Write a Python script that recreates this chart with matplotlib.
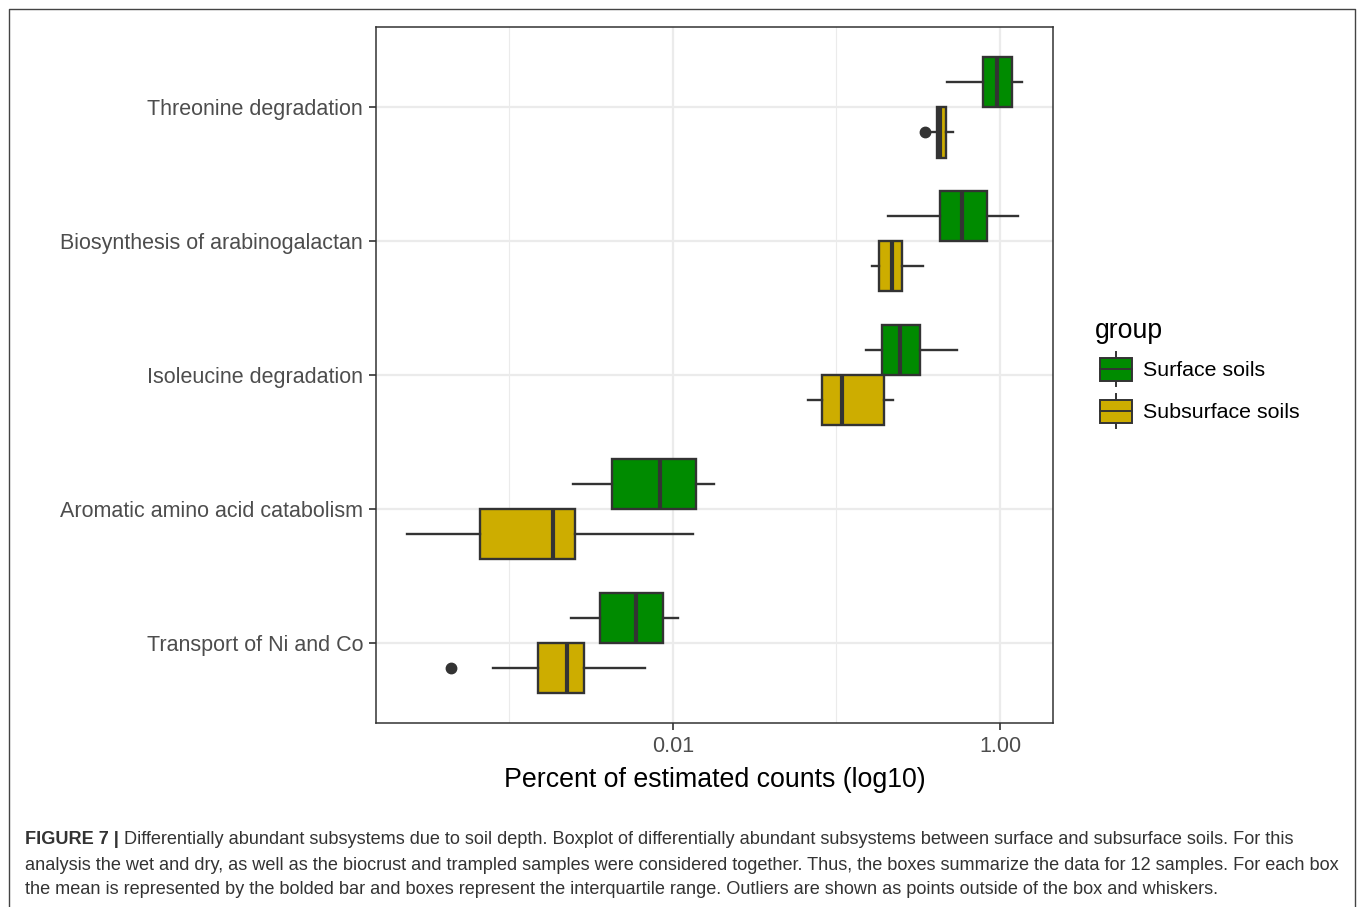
import matplotlib
matplotlib.use("Agg")
import matplotlib.pyplot as plt
from matplotlib.patches import Rectangle
from matplotlib.lines import Line2D
import matplotlib.ticker as mticker

plt.rcParams['font.family'] = ['Liberation Sans', 'DejaVu Sans']

# ---------------- data (percent of estimated counts) ----------------
categories = ["Transport of Ni and Co", "Aromatic amino acid catabolism",
              "Isoleucine degradation", "Biosynthesis of arabinogalactan",
              "Threonine degradation"]
groups = ["Surface soils", "Subsurface soils"]
group_colors = ["#008B00", "#CDAD00"]

# per category: whislo, q1, median, q3, whishi
surface_whislo = [0.00237, 0.00245, 0.152, 0.207, 0.475]
surface_q1     = [0.00356, 0.00426, 0.189, 0.431, 0.785]
surface_med    = [0.00592, 0.00836, 0.245, 0.583, 0.957]
surface_q3     = [0.00873, 0.0138, 0.324, 0.836, 1.189]
surface_whishi = [0.01076, 0.0179, 0.542, 1.297, 1.371]
surface_fliers = [[], [], [], [], []]

subsurface_whislo = [0.000791, 0.000237, 0.0668, 0.166, 0.378]
subsurface_q1     = [0.00150, 0.000665, 0.0820, 0.183, 0.410]
subsurface_med    = [0.00225, 0.00185, 0.108, 0.218, 0.429]
subsurface_q3     = [0.00286, 0.00250, 0.196, 0.253, 0.465]
subsurface_whishi = [0.00678, 0.0132, 0.222, 0.339, 0.515]
subsurface_fliers = [[0.000437], [], [], [], [0.349]]

x_ticks = [0.01, 1.0]
x_tick_labels = ["0.01", "1.00"]
x_minor = [0.001, 0.1]

caption_bold = "FIGURE 7 |"
caption_lines = [
    " Differentially abundant subsystems due to soil depth. Boxplot of differentially abundant subsystems between surface and subsurface soils. For this",
    "analysis the wet and dry, as well as the biocrust and trampled samples were considered together. Thus, the boxes summarize the data for 12 samples. For each box",
    "the mean is represented by the bolded bar and boxes represent the interquartile range. Outliers are shown as points outside of the box and whiskers.",
]

# ---------------- figure ----------------
W, H = 1357, 907
fig = plt.figure(figsize=(W / 100, H / 100), dpi=100)
fig.patch.set_facecolor("white")

ax = fig.add_axes([376 / W, 1 - 723 / H, (1053 - 376) / W, (723 - 27) / H])
ax.set_xscale("log")
ax.set_xlim(10 ** -3.816, 10 ** 0.324)
ax.set_ylim(0.4, 5.6)

edge = "#333333"
box_lw = 1.7
med_lw = 3.0

def make_stats(wl, q1, md, q3, wh, fl):
    return [dict(whislo=a, q1=b, med=c, q3=d, whishi=e, fliers=f)
            for a, b, c, d, e, f in zip(wl, q1, md, q3, wh, fl)]

surf_stats = make_stats(surface_whislo, surface_q1, surface_med, surface_q3,
                        surface_whishi, surface_fliers)
sub_stats = make_stats(subsurface_whislo, subsurface_q1, subsurface_med,
                       subsurface_q3, subsurface_whishi, subsurface_fliers)

base = list(range(1, len(categories) + 1))
dodge = 0.1875
bw = 0.375
for stats, off, col in [(surf_stats, dodge, group_colors[0]),
                        (sub_stats, -dodge, group_colors[1])]:
    ax.bxp(stats, positions=[p + off for p in base], widths=bw,
           orientation="horizontal", patch_artist=True, showcaps=False,
           boxprops=dict(facecolor=col, edgecolor=edge, linewidth=box_lw),
           medianprops=dict(color=edge, linewidth=med_lw, solid_capstyle="butt"),
           whiskerprops=dict(color=edge, linewidth=box_lw),
           flierprops=dict(marker="o", markerfacecolor=edge, markeredgecolor=edge,
                           markersize=7.5),
           manage_ticks=False, zorder=3)

# grid
ax.set_xticks(x_ticks)
ax.set_xticklabels(x_tick_labels)
ax.xaxis.set_minor_locator(mticker.FixedLocator(x_minor))
ax.xaxis.set_minor_formatter(mticker.NullFormatter())
ax.set_yticks(base)
ax.set_yticklabels(categories)
ax.grid(True, which="major", color="#EBEBEB", linewidth=1.6, zorder=0)
ax.grid(True, which="minor", axis="x", color="#EBEBEB", linewidth=0.8, zorder=0)
ax.set_axisbelow(True)
ax.tick_params(axis="both", which="major", length=5, width=1.2, color=edge,
               labelsize=15.5, labelcolor="#4D4D4D", pad=4.3)
ax.tick_params(axis="x", which="minor", length=0)
for s in ax.spines.values():
    s.set_color(edge)
    s.set_linewidth(1.1)
ax.set_xlabel("Percent of estimated counts (log10)", fontsize=19.3, color="black",
              labelpad=7)

# ---------------- overlay (frame, legend, caption) ----------------
ov = fig.add_axes([0, 0, 1, 1], zorder=5)
ov.set_xlim(0, W)
ov.set_ylim(H, 0)
ov.axis("off")
ov.patch.set_alpha(0)

# outer frame
ov.add_line(Line2D([9, 9, 1355, 1355], [907, 9, 9, 907], color="#444444", lw=1.0))

# legend
ov.text(1095, 331, "group", fontsize=19.2, color="black", va="center", ha="left")
for i, (g, col) in enumerate(zip(groups, group_colors)):
    yc = 369 + i * 42
    ov.add_line(Line2D([1116, 1116], [yc - 17, yc + 17], color=edge, lw=1.4, zorder=1))
    ov.add_patch(Rectangle((1100, yc - 11.5), 32, 23, facecolor=col, edgecolor=edge,
                           lw=1.4, zorder=2))
    ov.add_line(Line2D([1100, 1132], [yc, yc], color=edge, lw=1.4, zorder=3))
    ov.text(1143, yc + 2, g, fontsize=15.4, color="black", va="center", ha="left")

# caption
fig.canvas.draw()
r = fig.canvas.get_renderer()
cap_size = 13.1
cap_col = "#333333"
tb = ov.text(25, 840, caption_bold, fontsize=cap_size, fontweight="bold",
             color=cap_col, va="center", ha="left")
bb = tb.get_window_extent(renderer=r)
ov.text(25 + bb.width, 840, caption_lines[0], fontsize=cap_size, color=cap_col,
        va="center", ha="left")
ov.text(25, 865, caption_lines[1], fontsize=cap_size, color=cap_col,
        va="center", ha="left")
ov.text(25, 890, caption_lines[2], fontsize=cap_size, color=cap_col,
        va="center", ha="left")

fig.savefig("out.png", dpi=100)
